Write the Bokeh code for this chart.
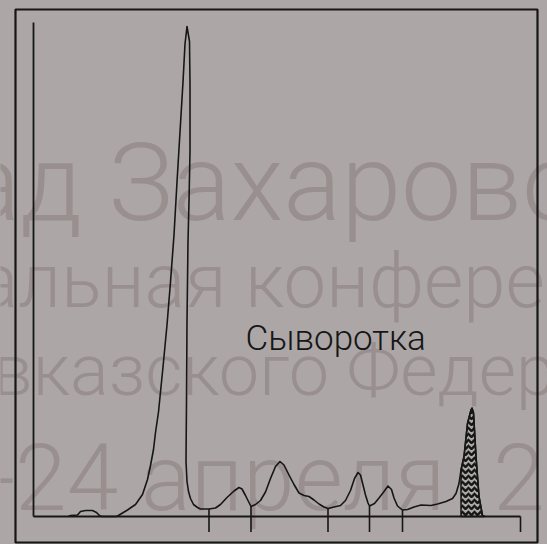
import numpy as np
from bokeh.plotting import figure
from bokeh.models import (Range1d, LinearAxis, FixedTicker, Label, GlobalInlineStyleSheet)
from bokeh.embed import file_html
from bokeh.resources import INLINE

# ---- data (position: scan units, density: % of max) ----
position = [7.0, 7.4, 8.8, 9.4, 10.4, 11.8, 12.6, 13.2, 13.6, 16.6,
            16.8, 18.8, 20.4, 21.8, 22.8, 23.4, 24.0, 24.4, 25.0, 25.4, 25.9, 26.7, 27.4,
            28.1, 28.7, 29.3, 29.9, 30.3, 30.7,
            31.2, 31.3, 31.3, 31.1, 30.9, 30.7, 30.6, 30.5, 30.7, 31.0, 31.4, 32.0, 32.8, 33.4,
            35.1, 36.4, 37.4, 38.7, 40.1, 41.1, 41.7, 42.4, 43.1, 43.5,
            44.4, 45.4, 46.4, 47.4, 48.4, 49.3, 50.1, 51.1, 52.1, 53.1, 54.1, 55.1, 56.1, 57.1, 58.1, 58.9,
            60.1, 61.4, 62.4, 63.4, 64.2, 64.9, 65.4, 65.9, 66.4, 66.9, 67.2,
            68.2, 69.1, 70.1, 70.9, 71.6, 72.1, 72.8, 73.8,
            74.8, 76.1, 77.5, 79.5, 80.8, 82.5, 83.8, 84.5, 85.1, 85.5,
            86.1, 86.8, 87.5, 87.7, 88.0, 88.5, 89.1, 89.8, 90.2]
density = [0.0, 0.2, 0.3, 1.0, 1.2, 1.2, 0.8, 0.2, 0.0, 0.0,
           0.1, 1.3, 2.4, 4.4, 7.4, 10.2, 13.4, 16.8, 20.9, 24.9, 29.9, 38.3, 46.9,
           56.3, 66.9, 76.9, 86.9, 94.5, 98.0,
           95.0, 86.4, 73.0, 63.0, 55.0, 39.0, 23.0, 11.0, 7.0, 5.0, 3.6, 2.4, 1.8, 1.5,
           1.5, 1.7, 2.4, 3.8, 5.1, 5.8, 5.5, 4.2, 2.8, 2.0,
           2.4, 3.2, 4.9, 7.6, 10.0, 11.0, 10.3, 8.3, 6.4, 4.7, 4.2, 4.0, 3.3, 2.5, 1.9, 1.6,
           1.9, 2.2, 3.2, 5.2, 7.6, 8.8, 8.3, 6.3, 4.3, 2.7, 2.1,
           2.6, 3.7, 5.0, 6.1, 5.4, 3.7, 2.1, 1.3,
           1.4, 1.9, 2.3, 2.2, 2.5, 3.0, 3.6, 4.6, 6.6, 9.3,
           12.0, 18.6, 21.3, 21.7, 20.7, 12.0, 4.0, 0.2, 0.0]

# fraction boundaries (separator marks) and end of scan
boundaries = [35.1, 43.5, 58.9, 67.2, 73.8, 97.4]
m_peak_start = 85.5          # start of the shaded (M-gradient) peak
axis_top = 98.8              # top of the density axis line

title_text = "Сыворотка"
watermark_lines = ["ад Захаровой", "альная конференция", "вказского Федерального",
                   "-24 апреля\u20022"]

BG = "#aca7a6"
INK = "#161616"
WM = "#958a8a"
FONT = "Roboto Light"

p = figure(width=547, height=544, output_backend="svg", toolbar_location=None,
           x_range=Range1d(-6.6, 102.8), y_range=Range1d(-5.6, 103.2),
           x_axis_type=None, y_axis_type=None, min_border=0,
           background_fill_color=BG, border_fill_color=BG, outline_line_color=None)
p.stylesheets = [GlobalInlineStyleSheet(css="body{background:%s;}" % BG)]

# watermark (faint, behind the trace)
wm_x = [-14.2, -11.2, -8.2, -9.0]
wm_y = [66.8, 47.2, 29.2, 7.6]
wm_sizes = ["108px", "76px", "72px", "93px"]
for t, x, y, s in zip(watermark_lines, wm_x, wm_y, wm_sizes):
    p.add_layout(Label(x=x, y=y, text=t, text_font=FONT, text_font_size=s,
                       text_color=WM, text_alpha=0.8, text_baseline="alphabetic",
                       text_align="left", level="underlay"))

# outer border of the printout
p.quad(left=[-3.6], right=[100.8], top=[101.4], bottom=[-5.2],
       fill_alpha=0.0, line_color=INK, line_alpha=1.0, line_width=2.2)

# axes as lines only, placed at the origin
def bare_axis(bounds):
    return LinearAxis(fixed_location=0, bounds=bounds, ticker=FixedTicker(ticks=[]),
                      major_tick_out=0, major_tick_in=0, minor_tick_out=0, minor_tick_in=0,
                      major_label_text_font_size="0px", axis_line_width=1.8,
                      axis_line_color=INK)

p.add_layout(bare_axis((0, axis_top)), "left")
p.add_layout(bare_axis((0, boundaries[-1])), "below")

# shaded M-peak
k = position.index(m_peak_start)
px = position[k:] + [position[k]]
py = density[k:] + [0.0]
p.patch(px, py, fill_alpha=0.0, line_color=INK, line_width=1.5,
        hatch_pattern="horizontal_wave", hatch_color=INK, hatch_scale=6, hatch_weight=2.4)

# densitogram trace
p.line(position, density, line_color=INK, line_width=1.6, line_join="round")

# fraction separators: from the trace down below the baseline
tail = position.index(33.4)
tops = np.interp(boundaries, position[tail:], density[tail:])
p.segment(x0=boundaries, y0=tops, x1=boundaries, y1=[-3.1] * len(boundaries),
          line_color=INK, line_width=1.6)

# label
p.add_layout(Label(x=42.4, y=35.7, text=title_text, text_font=FONT,
                   text_font_size="35px", text_color=INK, text_baseline="alphabetic",
                   text_align="left"))

open("out.html", "w").write(file_html(p, INLINE))
